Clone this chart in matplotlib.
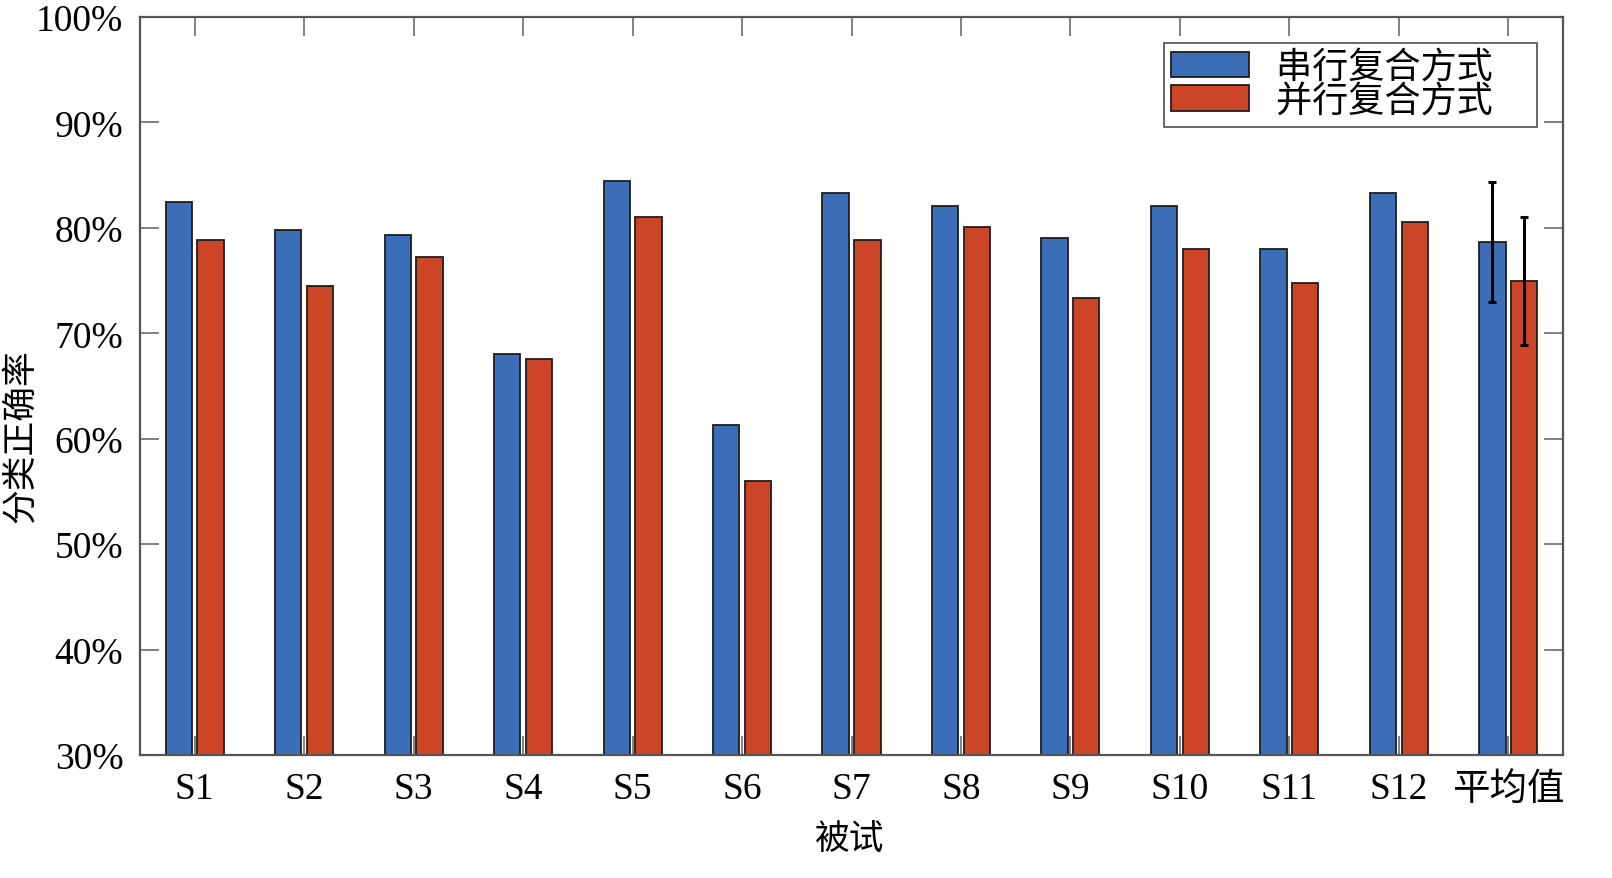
import matplotlib
matplotlib.use("Agg")
import matplotlib.pyplot as plt
import numpy as np

categories = ["S1", "S2", "S3", "S4", "S5", "S6", "S7", "S8", "S9", "S10", "S11", "S12", "平均值"]
serial = [82.5, 79.8, 79.3, 68.0, 84.4, 61.3, 83.3, 82.1, 79.0, 82.1, 78.0, 83.3, 78.66]
parallel = [78.85, 74.5, 77.2, 67.6, 81.0, 56.0, 78.85, 80.1, 73.3, 78.0, 74.8, 80.55, 74.96]
serial_err = [5.7]
parallel_err = [6.1]
yticks = [30, 40, 50, 60, 70, 80, 90, 100]
series_names = ["串行复合方式", "并行复合方式"]

plt.rcParams['font.family'] = ['Liberation Serif', 'Noto Sans CJK SC', 'DejaVu Sans']

fig = plt.figure(figsize=(16.12, 8.79), dpi=100)
ax = fig.add_axes([140/1612, 1-756/879, (1563-140)/1612, (756-18)/879])

x = np.arange(1, len(categories) + 1)
w = 0.24
off = 0.145
blue = "#3B6EB7"
red = "#CD4527"
ax.bar(x - off, serial, width=w, color=blue, edgecolor="#1e1e1e", linewidth=1.3, label=series_names[0] + "\u3000", zorder=2)
ax.bar(x + off, parallel, width=w, color=red, edgecolor="#1e1e1e", linewidth=1.3, label=series_names[1] + "\u3000", zorder=2)

ax.errorbar([x[-1] - off], [serial[-1]], yerr=serial_err, fmt='none', ecolor='black', elinewidth=2.2, capsize=3, capthick=2.2, zorder=3)
ax.errorbar([x[-1] + off], [parallel[-1]], yerr=parallel_err, fmt='none', ecolor='black', elinewidth=2.2, capsize=3, capthick=2.2, zorder=3)

ax.set_xlim(0.5, 13.5)
ax.set_ylim(30, 100)
ax.set_yticks(yticks)
ax.set_yticklabels([f"{v}%" for v in yticks])
ax.set_xticks(x)
ax.set_xticklabels(categories)

for s in ax.spines.values():
    s.set_color("#555555")
    s.set_linewidth(1.6)
ax.tick_params(direction='in', length=14, width=1.3, color="#777777", labelsize=27,
               top=True, right=True)
ax.tick_params(axis='x', pad=12)
ax.tick_params(axis='y', pad=12)

fig.text(850/1612, 1 - 841/879, "被试", fontsize=25, ha='center', va='center')
fig.text(22/1612, 1 - 436/879, "分类正确率", fontsize=25, ha='center', va='center', rotation=90)

leg = ax.legend(loc='upper right', fontsize=26, frameon=True, fancybox=False, edgecolor="#333333",
                handlelength=2.15, handleheight=0.7, labelspacing=0.0, borderpad=0.22,
                handletextpad=0.75, borderaxespad=0)
leg.get_frame().set_linewidth(1.3)
leg.set_bbox_to_anchor((1537/1612, 1 - 44/879), transform=fig.transFigure)

fig.savefig("out.png", dpi=100)
